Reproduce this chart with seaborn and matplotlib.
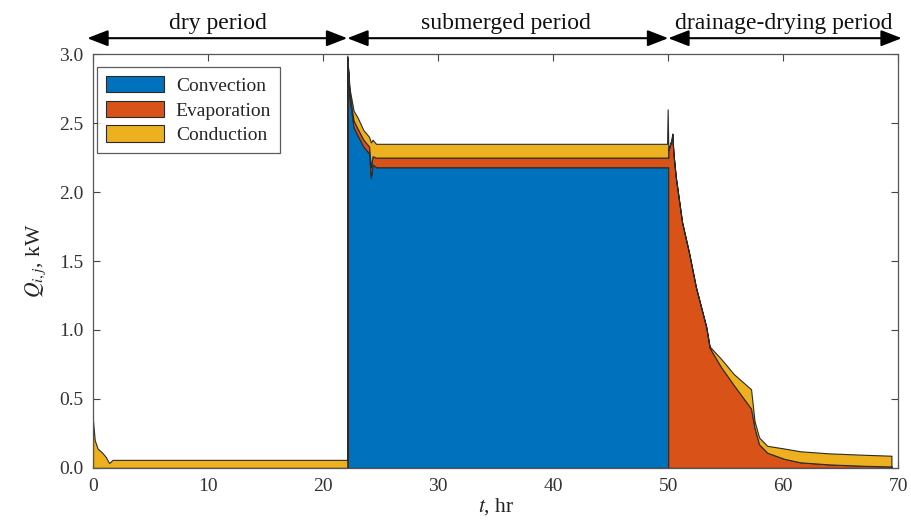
import numpy as np
import pandas as pd
import matplotlib
matplotlib.use('Agg')
import matplotlib.pyplot as plt
import seaborn as sns

# --- data (time in hr, heat flow in kW) ---
tempo = [0.0, 0.15, 0.4, 0.8, 1.1, 1.4, 1.7, 22.1,
         22.1, 22.3, 22.65, 23.0, 23.5, 24.0, 24.15, 24.3, 24.6, 49.9, 49.95, 50.0,
         50.0, 50.3, 50.35, 50.45, 50.65, 51.2, 51.8, 52.4, 53.3, 53.6, 54.6, 55.7,
         57.2, 57.5, 57.9, 58.6, 60.1, 61.5, 64.0, 67.0, 69.4, 69.4]
conveccao = [0, 0, 0, 0, 0, 0, 0, 0,
             2.97, 2.68, 2.47, 2.41, 2.33, 2.28, 2.10, 2.20, 2.18, 2.18, 2.18, 2.18,
             0, 0, 0, 0, 0, 0, 0, 0, 0, 0, 0, 0,
             0, 0, 0, 0, 0, 0, 0, 0, 0, 0]
evaporacao = [0, 0, 0, 0, 0, 0, 0, 0,
              0.01, 0.03, 0.05, 0.05, 0.05, 0.05, 0.08, 0.06, 0.07, 0.07, 0.07, 0.07,
              2.30, 2.38, 2.42, 2.28, 2.11, 1.78, 1.56, 1.31, 1.02, 0.87, 0.73, 0.60,
              0.43, 0.29, 0.17, 0.11, 0.065, 0.04, 0.025, 0.015, 0.01, 0]
conducao = [0.34, 0.20, 0.14, 0.11, 0.08, 0.035, 0.058, 0.058,
            0.01, 0.04, 0.07, 0.08, 0.07, 0.07, 0.18, 0.12, 0.10, 0.10, 0.35, 0.10,
            0.005, 0.005, 0.005, 0.005, 0.005, 0.005, 0.005, 0.005, 0.005, 0.01, 0.06, 0.08,
            0.14, 0.05, 0.05, 0.05, 0.075, 0.08, 0.08, 0.08, 0.078, 0]

nomes = ['Convection', 'Evaporation', 'Conduction']
cores = ['#0072BD', '#D95319', '#EDB120']

periodos = ['dry period', 'submerged period', 'drainage-drying period']
limites = [(-0.5, 22.1), (22.1, 50.0), (50.0, 70.3)]
centros = [10.9, 35.9, 60.0]

x_ticks = [0, 10, 20, 30, 40, 50, 60, 70]
y_ticks = [0.0, 0.5, 1.0, 1.5, 2.0, 2.5, 3.0]

df = pd.DataFrame({'t': tempo, nomes[0]: conveccao, nomes[1]: evaporacao, nomes[2]: conducao})

# --- estilo ---
sns.set_theme(style='ticks')
plt.rcParams['font.family'] = ['Liberation Serif', 'DejaVu Serif']
plt.rcParams['mathtext.fontset'] = 'stix'
plt.rcParams['xtick.direction'] = 'in'
plt.rcParams['ytick.direction'] = 'in'

fig = plt.figure(figsize=(9.12, 5.21), dpi=100)
ax = fig.add_axes([0.102, 0.102, 0.883, 0.794])

ax.stackplot(df['t'], df[nomes[0]], df[nomes[1]], df[nomes[2]],
             colors=cores, labels=nomes, edgecolor='#2a2a2a', linewidth=0.8)

ax.set_xlim(0, 70)
ax.set_ylim(0, 3.0)
ax.set_xticks(x_ticks)
ax.set_yticks(y_ticks)
ax.set_yticklabels([f'{v:.1f}' for v in y_ticks])
ax.tick_params(axis='both', which='both', top=True, right=True, length=5,
               width=0.8, color='#444444', labelsize=14, labelcolor='#333333', pad=7)
for s in ax.spines.values():
    s.set_color('#555555')
    s.set_linewidth(0.9)

ax.set_xlabel('$t$, hr', fontsize=15.5, color='#222222', labelpad=1)
ax.set_ylabel('$Q_{i,j}$, kW', fontsize=15.5, color='#222222', labelpad=8)

# setas dos períodos
for nome, (a, b), c in zip(periodos, limites, centros):
    ax.annotate('', xy=(b, 3.116), xytext=(a, 3.116), xycoords='data',
                annotation_clip=False,
                arrowprops=dict(arrowstyle='<|-|>,head_length=0.9,head_width=0.35',
                                color='black', lw=1.5, shrinkA=0, shrinkB=0,
                                mutation_scale=14))
    ax.text(c, 3.15, nome, ha='center', va='bottom', fontsize=17, color='#111111',
            clip_on=False)

leg = ax.legend(loc='upper left', bbox_to_anchor=(0.005, 0.968), borderaxespad=0,
                fontsize=14, frameon=True, fancybox=False, handlelength=3.0,
                handleheight=0.9, labelspacing=0.3, borderpad=0.45, handletextpad=0.6)
leg.get_frame().set_edgecolor('#333333')
leg.get_frame().set_linewidth(0.9)

plt.savefig('out.png', dpi=100)
